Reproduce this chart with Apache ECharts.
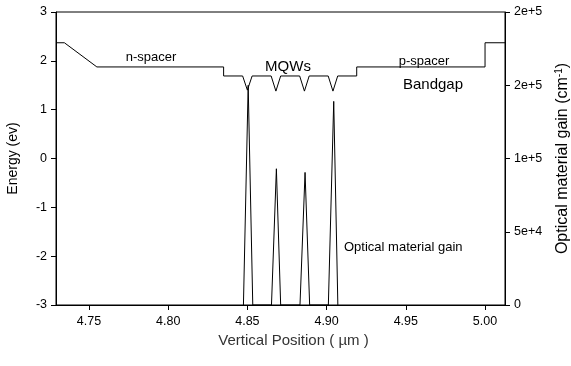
<!DOCTYPE html>
<html>
<head>
<meta charset="utf-8">
<script src="https://cdn.jsdelivr.net/npm/echarts@6/dist/echarts.min.js"></script>
<style>
    html, body { margin: 0; padding: 0; background: #fff; }
    #chart { width: 571px; height: 366px; }
</style>
</head>
<body>
<div id="chart"></div>
<script>
    // band edge profile (position in um, energy in ev)
    const bandX = [4.7292, 4.7345, 4.755, 4.835, 4.835, 4.847, 4.850, 4.853, 4.865, 4.868, 4.871,
        4.883, 4.886, 4.889, 4.901, 4.904, 4.907, 4.919, 4.919, 5.000, 5.000, 5.0126];
    const bandE = [2.37, 2.37, 1.875, 1.875, 1.69, 1.69, 1.40, 1.69, 1.69, 1.38, 1.69,
        1.69, 1.38, 1.69, 1.69, 1.38, 1.69, 1.69, 1.875, 1.875, 2.37, 2.37];
    // optical material gain (cm-1)
    const gainX = [4.8475, 4.8505, 4.8534, 4.8652, 4.8683, 4.8710, 4.8832, 4.8864, 4.8893, 4.9011, 4.9045, 4.9071];
    const gainG = [0, 150000, 0, 0, 93000, 0, 0, 90500, 0, 0, 139000, 0];
    const xTicks = [4.75, 4.80, 4.85, 4.90, 4.95, 5.00];

    const font = 'Liberation Sans, Arial, sans-serif';
    const chart = echarts.init(document.getElementById('chart'));

    const zip = function (xs, ys) {
        return xs.map(function (x, i) { return [x, ys[i]]; });
    };
    const note = function (text, x, y, size, align) {
        return {
            type: 'text', x: x, y: y
            , style: {text: text, font: size + 'px ' + font, fill: '#000', align: align || 'center', verticalAlign: 'middle'}
        };
    };

    chart.setOption({
        animation: false
        , grid: {
            left: 56, right: 66, top: 12, bottom: 61
            , outerBoundsMode: 'none'
            , show: true, borderColor: '#000', borderWidth: 1
        }
        , xAxis: {
            type: 'value'
            , min: 4.7292
            , max: 5.0126
            , name: 'Vertical Position ( \u00b5m )'
            , nameLocation: 'middle'
            , nameGap: 28
            , nameTextStyle: {fontFamily: font, fontSize: 15, color: '#333', padding: [0, 0, 0, 26]}
            , axisLine: {onZero: false, lineStyle: {color: '#000', width: 1}}
            , axisTick: {customValues: xTicks, length: 5, lineStyle: {color: '#000'}}
            , axisLabel: {
                customValues: xTicks
                , margin: 10
                , fontFamily: font
                , fontSize: 12.5
                , color: '#000'
                , formatter: function (v) { return v.toFixed(2); }
            }
            , splitLine: {show: false}
        }
        , yAxis: [{
            type: 'value'
            , min: -3
            , max: 3
            , interval: 1
            , name: 'Energy (ev)'
            , nameLocation: 'middle'
            , nameGap: 36
            , nameTextStyle: {fontFamily: font, fontSize: 14, color: '#000'}
            , axisLine: {show: true, lineStyle: {color: '#000'}}
            , axisTick: {show: true, length: 5, lineStyle: {color: '#000'}}
            , axisLabel: {margin: 9, fontFamily: font, fontSize: 12.5, color: '#000'}
            , splitLine: {show: false}
        }, {
            type: 'value'
            , min: 0
            , max: 200000
            , interval: 50000
            , position: 'right'
            , name: 'Optical material gain (cm{sup|-1})'
            , nameLocation: 'middle'
            , nameGap: 49
            , nameRotate: 90
            , nameTextStyle: {
                fontFamily: font, fontSize: 16, color: '#000'
                , rich: {sup: {fontFamily: font, fontSize: 10, verticalAlign: 'top', padding: [0, 0, 7, 0]}}
            }
            , axisLine: {show: true, lineStyle: {color: '#000'}}
            , axisTick: {show: true, length: 5, lineStyle: {color: '#000'}}
            , axisLabel: {
                margin: 9, fontFamily: font, fontSize: 12.5, color: '#000'
                , formatter: function (v) { return v === 0 ? '0' : v.toExponential(0); }
            }
            , splitLine: {show: false}
        }]
        , graphic: [
            note('n-spacer', 151, 57, 13)
            , note('MQWs', 288, 67, 15)
            , note('p-spacer', 424, 61, 13)
            , note('Bandgap', 433, 85, 15)
            , note('Optical material gain', 344, 247, 13, 'left')
        ]
        , series: [{
            name: 'Bandgap'
            , type: 'line'
            , yAxisIndex: 0
            , data: zip(bandX, bandE)
            , showSymbol: false
            , lineStyle: {color: '#000', width: 1}
        }, {
            name: 'Gain'
            , type: 'line'
            , yAxisIndex: 1
            , data: zip(gainX, gainG)
            , showSymbol: false
            , lineStyle: {color: '#000', width: 1}
        }]
    });
</script>
</body>
</html>
